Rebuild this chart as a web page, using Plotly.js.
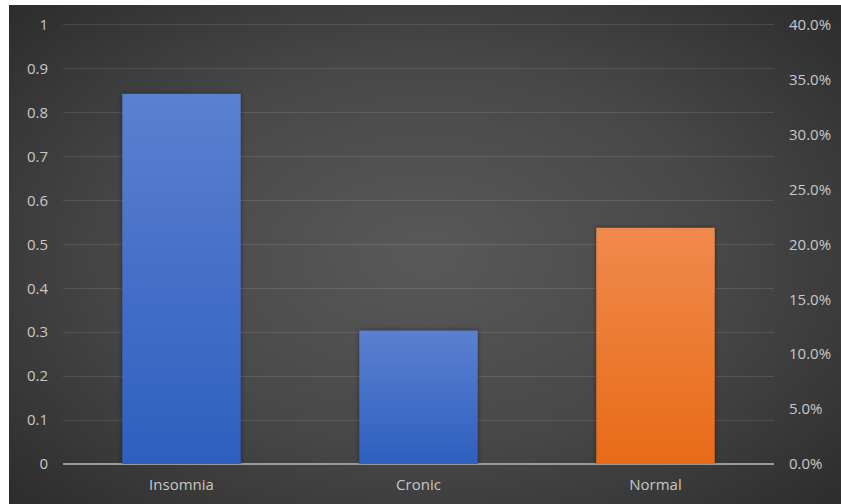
<!DOCTYPE html>
<html>
<head>
<meta charset="utf-8">
<script src="https://cdn.plot.ly/plotly-3.0.1.min.js"></script>
<style>
  html, body { margin: 0; padding: 0; background: #ffffff; }
  #wrap {
    position: absolute; left: 9px; top: 5px; width: 832px; height: 499px;
    background: radial-gradient(ellipse 70% 75% at 50% 50%, #595959 0%, #484848 50%, #2b2b2b 100%);
  }
  #chart { width: 832px; height: 499px; }
</style>
</head>
<body>
<div id="wrap"><div id="chart"></div></div>
<script>
const categories = ["Insomnia", "Cronic", "Normal"];
const values = [0.843, 0.304, 0.538];
const barColors = ["#4472C4", "#4472C4", "#ED7D31"];
const leftTicks = [0, 0.1, 0.2, 0.3, 0.4, 0.5, 0.6, 0.7, 0.8, 0.9, 1];
const rightTicks = [0, 0.05, 0.1, 0.15, 0.2, 0.25, 0.3, 0.35, 0.4];

const fontFam = "'Open Sans', 'Noto Sans', sans-serif";
const tickFont = { family: fontFam, size: 15, color: "#c8c8c8" };

const data = [
  {
    type: "bar",
    x: categories,
    y: values,
    marker: { color: barColors, line: { width: 0 } },
    hoverinfo: "x+y"
  },
  {
    type: "scatter",
    mode: "markers",
    x: categories,
    y: [null, null, null],
    yaxis: "y2",
    hoverinfo: "skip",
    showlegend: false
  }
];

const layout = {
  width: 832,
  height: 499,
  margin: { l: 54, r: 67, t: 11, b: 40 },
  paper_bgcolor: "rgba(0,0,0,0)",
  plot_bgcolor: "rgba(0,0,0,0)",
  showlegend: false,
  bargap: 0.5,
  xaxis: {
    type: "category",
    tickfont: tickFont,
    showgrid: false,
    showline: false,
    ticks: "",
    zeroline: false,
    ticklabelstandoff: 10
  },
  yaxis: {
    range: [0, 1.02],
    tickvals: leftTicks,
    ticktext: leftTicks.map(v => String(v)),
    tickfont: tickFont,
    showgrid: true,
    gridcolor: "rgba(255,255,255,0.11)",
    gridwidth: 1,
    zeroline: true,
    zerolinecolor: "#9a9a9a",
    zerolinewidth: 2,
    ticks: "",
    ticklabelstandoff: 14,
    showline: false
  },
  yaxis2: {
    overlaying: "y",
    side: "right",
    anchor: "x",
    range: [0, 0.408],
    tickvals: rightTicks,
    tickformat: ".1%",
    tickfont: tickFont,
    showgrid: false,
    zeroline: false,
    ticks: "",
    ticklabelstandoff: 14,
    showline: false
  }
};

Plotly.newPlot("chart", data, layout, { displayModeBar: false, staticPlot: true }).then(function () {
  // subtle vertical gradients on bars (styling only)
  const svg = document.querySelector("#chart svg.main-svg");
  const ns = "http://www.w3.org/2000/svg";
  let defs = svg.querySelector("defs");
  if (!defs) { defs = document.createElementNS(ns, "defs"); svg.insertBefore(defs, svg.firstChild); }
  function grad(id, top, bottom) {
    const g = document.createElementNS(ns, "linearGradient");
    g.setAttribute("id", id);
    g.setAttribute("x1", "0"); g.setAttribute("y1", "0");
    g.setAttribute("x2", "0"); g.setAttribute("y2", "1");
    const s1 = document.createElementNS(ns, "stop");
    s1.setAttribute("offset", "0"); s1.setAttribute("stop-color", top);
    const s2 = document.createElementNS(ns, "stop");
    s2.setAttribute("offset", "1"); s2.setAttribute("stop-color", bottom);
    g.appendChild(s1); g.appendChild(s2);
    defs.appendChild(g);
  }
  grad("gBlue", "#5b80d0", "#2e5fbf");
  grad("gOrange", "#f08a4c", "#e86b18");
  const paths = document.querySelectorAll("#chart .barlayer .point path");
  paths.forEach(function (p, i) {
    p.style.fill = (barColors[i] === "#ED7D31") ? "url(#gOrange)" : "url(#gBlue)";
    p.style.filter = "drop-shadow(0px 0px 2px rgba(0,0,0,0.45))";
  });
});
</script>
</body>
</html>
